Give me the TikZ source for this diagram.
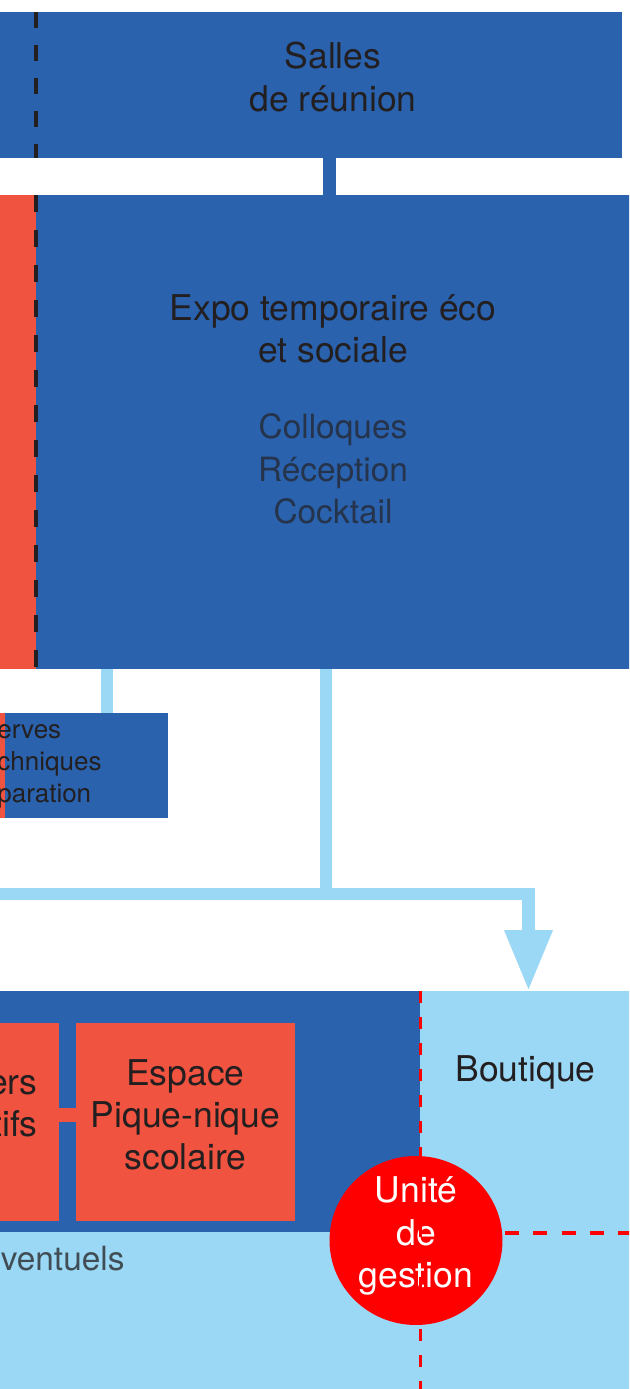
\documentclass[tikz,border=0pt]{standalone}
\usepackage{fontspec}
\setmainfont{TeX Gyre Heros}
\usetikzlibrary{arrows.meta,shapes.geometric}

\definecolor{roomblue}{RGB}{42,98,174}
\definecolor{roomred}{RGB}{240,83,63}
\definecolor{skyblue}{RGB}{155,216,245}
\definecolor{gestred}{RGB}{255,0,0}
\definecolor{inkdark}{RGB}{35,31,32}

\tikzset{
	zone/.style={inner sep=0pt, outer sep=0pt, anchor=north west},
	roomtext/.style={text=inkdark, align=center, font=\fontsize{20.2}{24}\selectfont},
	thintext/.style={text=inkdark!70!roomblue, align=center, font=\fontsize{19}{24.2}\selectfont},
	smalltext/.style={text=inkdark, align=left, inner sep=0pt, font=\fontsize{14.8}{18.2}\selectfont},
	bluelink/.style={draw=roomblue, line width=7.4pt},
	skylink/.style={draw=skyblue, line width=7.3pt},
	redlink/.style={draw=roomred, line width=8pt},
	walldash/.style={draw=inkdark, line width=2.5pt},
	gestdash/.style={draw=gestred, line width=2.1pt, dash pattern=on 6.83pt off 7.97pt},
}

\begin{document}
\begin{tikzpicture}[x=0.02cm, y=-0.02cm]
		\useasboundingbox (0,0) rectangle (629,1389);
		\clip (0,0) rectangle (629,1389);
		\fill[white] (0,0) rectangle (629,1389);

		\node[zone, fill=roomblue, minimum width=12.64cm, minimum height=2.92cm] (salles) at (-10,12) {};
		\node[zone, fill=roomred, minimum width=0.92cm, minimum height=9.48cm] (leftroom) at (-10,195) {};
		\node[zone, fill=roomblue, minimum width=12.08cm, minimum height=9.48cm] (expo) at (36,195) {};
		\node[zone, fill=roomred, minimum width=0.3cm, minimum height=2.1cm] (leftstrip) at (-10,713) {};
		\node[zone, fill=roomblue, minimum width=3.26cm, minimum height=2.1cm] (reserves) at (5,713) {};
		\node[zone, fill=skyblue, minimum width=13cm, minimum height=8.18cm] (lowzone) at (-10,991) {};
		\node[zone, fill=roomblue, minimum width=8.61cm, minimum height=4.82cm] (scolaire) at (-10,991) {};
		\node[zone, fill=roomred, minimum width=1.38cm, minimum height=3.96cm] (atelier) at (-10,1023) {};
		\node[zone, fill=roomred, minimum width=4.38cm, minimum height=3.96cm] (espace) at (76,1023) {};

		\coordinate (saltap) at (329,0);
		\coordinate (restap) at (107,0);
		\coordinate (maintap) at (326,0);
		\coordinate (bar) at (-10,894);
		\coordinate (arrowx) at (528.5,0);
		\coordinate (rlink) at (0,1115);
		\coordinate (gright) at (640,1233);

		\draw[bluelink] (salles.south -| saltap) -- (expo.north -| saltap);
		\draw[skylink] (expo.south -| restap) -- (reserves.north -| restap);
		\draw[skylink] (expo.south -| maintap) -- (bar -| maintap);
		\draw[skylink, -{Triangle[length=34.7pt, width=25.6pt]}] (bar) -| (lowzone.north -| arrowx);
		\draw[redlink] (atelier.east |- rlink) -- (espace.west |- rlink);

		\draw[walldash, dash pattern=on 9.1pt off 9.67pt] (salles.north -| leftroom.east) -- (salles.south -| leftroom.east);
		\draw[walldash, dash pattern=on 9.67pt off 10.24pt] (leftroom.north east) -- (leftroom.south east);
		\draw[gestdash, dash pattern=on 7.97pt off 8.1pt] (scolaire.east |- gright) -- (gright);

		\node[ellipse, fill=gestred, inner sep=0pt, minimum width=3.46cm, minimum height=3.38cm] (gestion) at (416,1240.5) {};

		\node[roomtext] (sallestext) at (333,77) {Salles\\de réunion};
		\node[roomtext] (expotext) at (333,329) {Expo temporaire éco\\et sociale};
		\node[thintext] (usetext) at (333,469) {Colloques\\Réception\\Cocktail};
		\node[smalltext, anchor=west] (restext) at (-3,766.5) {erves\\chniques\\paration};
		\node[roomtext, align=right, inner sep=0pt, anchor=east] (ateltext) at (38,1106) {ers\\tifs};
		\node[roomtext] (espacetext) at (185.5,1114.5) {Espace\\Pique-nique\\scolaire};
		\node[roomtext] (boutext) at (525.5,1072) {Boutique};
		\node[thintext, text=inkdark!75!skyblue, anchor=west, inner sep=0pt] (eventext) at (0.5,1259) {ventuels};
		\node[roomtext, text=white] (gesttext) at (416,1236) {Unité\\de\\gestion};

		\draw[gestdash] (scolaire.north east) -- (scolaire.east |- lowzone.south);
	\end{tikzpicture}
\end{document}
